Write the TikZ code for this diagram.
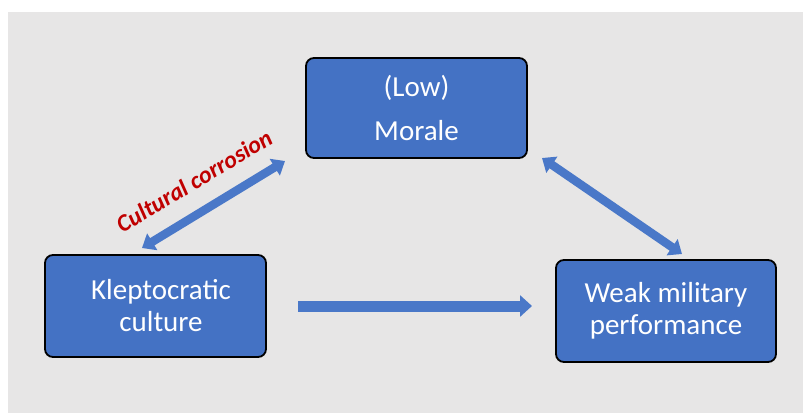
\documentclass[tikz,border=0pt]{standalone}
\usepackage{fontspec}
\setmainfont{Carlito}
\usetikzlibrary{arrows.meta}
\definecolor{boxblue}{HTML}{4472C4}
\definecolor{arrblue}{HTML}{4A78C8}
\definecolor{bgc}{HTML}{E7E6E6}
\definecolor{redtxt}{HTML}{C00000}
\begin{document}
\begin{tikzpicture}[x=1pt,y=-1pt,
  box/.style={draw=black, line width=1.8pt, fill=boxblue, rounded corners=8pt,
    text=white, align=center, inner sep=0pt, font=\fontsize{29}{32}\selectfont},
  blockarrow/.style={line width=11pt, draw=arrblue, -{Triangle[width=21pt,length=12pt]}},
  dblarrow/.style={line width=8.5pt, draw=arrblue,
    {Triangle[width=19pt,length=12pt]}-{Triangle[width=19pt,length=12pt]}},
  redlabel/.style={text=redtxt, font=\fontsize{24}{26}\selectfont\bfseries\itshape, inner sep=0pt}]
\useasboundingbox (0,0) rectangle (803,413);
\fill[white] (0,0) rectangle (803,413);
\fill[bgc] (8,12) rectangle (803,413);
\node[box, minimum width=221pt, minimum height=100pt] (morale) at (416.5,108) {(Low)\\[12pt]Morale};
\node[box, minimum width=221pt, minimum height=102pt] (klepto) at (155.5,306) {\hspace*{11pt}Kleptocratic\\\hspace*{11pt}culture};
\node[box, minimum width=220pt, minimum height=102pt] (weak) at (666,311) {Weak military\\performance};
\coordinate (kA) at (142,248);
\coordinate (mA) at (285,161);
\coordinate (mB) at (542,158);
\coordinate (wB) at (682,254);
\coordinate (kC) at (298,306);
\coordinate (wC) at (532,306);
\draw[dblarrow] (kA) -- (mA);
\draw[dblarrow] (mB) -- (wB);
\draw[blockarrow] (kC) -- (wC);
\node[redlabel, rotate=31] (corr) at (194,181) {Cultural corrosion};
\end{tikzpicture}
\end{document}
